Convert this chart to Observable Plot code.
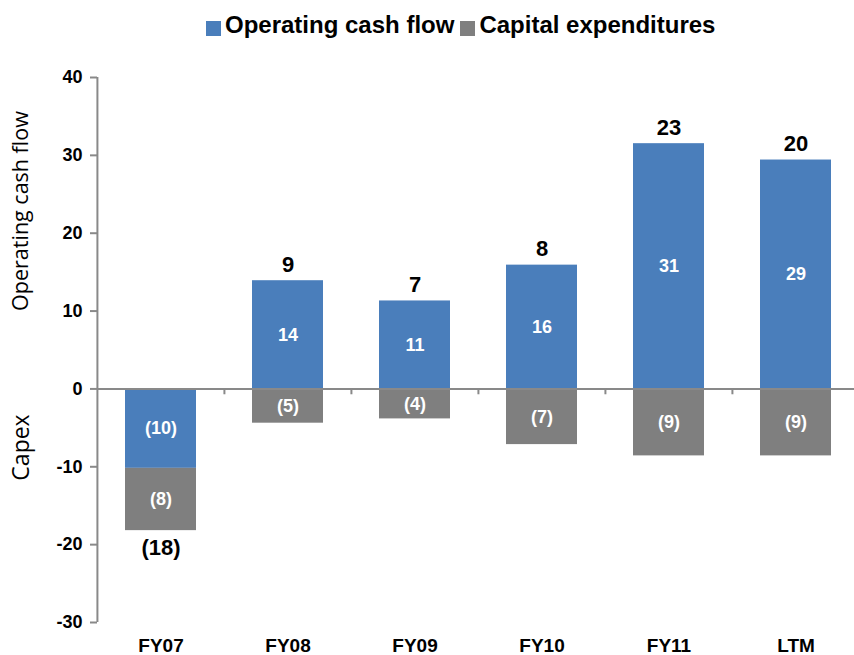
<!DOCTYPE html>
<html>
<head>
<meta charset="utf-8">
<script src="https://cdn.jsdelivr.net/npm/d3@7"></script>
<script src="https://cdn.jsdelivr.net/npm/@observablehq/plot@0.6"></script>
<style>
  html, body { margin: 0; padding: 0; background: #fff; }
  #wrap { width: 854px; height: 655px; position: relative; }
  #legend { height: 50px; display: flex; align-items: center; padding-left: 206px; box-sizing: border-box;
            font-family: "Liberation Sans", Arial, sans-serif; font-weight: bold; font-size: 24px; color: #000; }
  #legend .sw { width: 15px; height: 15px; display: inline-block; margin-right: 4px; position: relative; top: 3px; }
  #legend .item { display: flex; align-items: center; margin-right: 6px; white-space: nowrap; }
  svg { display: block; overflow: visible; }
</style>
</head>
<body>
<div id="wrap">
  <div id="legend"></div>
  <div id="chart"></div>
</div>
<script>
// ---- data ----
const categories = ["FY07", "FY08", "FY09", "FY10", "FY11", "LTM"];
const ocf = [-10.2, 13.9, 11.3, 15.9, 31.5, 29.4];
const capex = [-8.0, -4.4, -3.85, -7.15, -8.6, -8.6];
const ocfLabels = ["(10)", "14", "11", "16", "31", "29"];
const capexLabels = ["(8)", "(5)", "(4)", "(7)", "(9)", "(9)"];
const totalLabels = ["(18)", "9", "7", "8", "23", "20"];
const seriesNames = ["Operating cash flow", "Capital expenditures"];
const seriesColors = ["#4a7ebb", "#7f7f7f"];
const yTicks = [-30, -20, -10, 0, 10, 20, 30, 40];
const yTickLabels = ["-30", "-20", "-10", "0", "10", "20", "30", "40"];
const yTitles = ["Operating cash flow", "Capex"];

// ---- tables ----
const rows = [];
categories.forEach((c, i) => {
  rows.push({cat: c, series: seriesNames[0], value: ocf[i], label: ocfLabels[i]});
  rows.push({cat: c, series: seriesNames[1], value: capex[i], label: capexLabels[i]});
});
const totals = categories.map((c, i) => ({cat: c, label: totalLabels[i], top: ocf[i], end: ocf[i] + capex[i]}));

// ---- legend ----
const legend = document.getElementById("legend");
seriesNames.forEach((s, i) => {
  const it = document.createElement("span");
  it.className = "item";
  const sw = document.createElement("span");
  sw.className = "sw";
  sw.style.background = seriesColors[i];
  it.appendChild(sw);
  it.appendChild(document.createTextNode(s));
  legend.appendChild(it);
});

// ---- chart ----
const font = "'Liberation Sans', Arial, sans-serif";
const axisGray = "#898989";
const xRange = [97, 860];
const step = (xRange[1] - xRange[0]) / categories.length;

const chart = Plot.plot({
  width: 854,
  height: 605,
  marginTop: 27,
  marginBottom: 33,
  marginLeft: 97,
  marginRight: 0,
  style: {fontFamily: font, background: "white", overflow: "visible"},
  x: {domain: categories, range: xRange, paddingInner: 0.44, paddingOuter: 0.22},
  y: {domain: [-30, 40]},
  color: {domain: seriesNames, range: seriesColors},
  marks: [
    Plot.barY(rows, Plot.stackY({x: "cat", y: "value", fill: "series", z: "series", order: null, inset: 0})),
    Plot.ruleY([0], {stroke: axisGray, strokeWidth: 2}),
    Plot.ruleX([categories[0]], {x: d => d, dx: -step / 2, stroke: axisGray, strokeWidth: 2}),
    Plot.ruleX(categories.slice(1), {x: d => d, dx: -step / 2, y1: 0, y2: -0.75, stroke: axisGray, strokeWidth: 2}),
    Plot.text(rows, Plot.stackY({x: "cat", y: "value", z: "series", order: null, text: "label",
      fill: "white", fontSize: 18, fontWeight: "bold"})),
    Plot.text(totals.filter(d => d.top > 0), {x: "cat", y: "top", text: "label", dy: -16,
      fill: "black", fontSize: 22, fontWeight: "bold"}),
    Plot.text(totals.filter(d => d.top <= 0), {x: "cat", y: "end", text: "label", dy: 17,
      fill: "black", fontSize: 22, fontWeight: "bold"}),
    Plot.axisY({ticks: yTicks, tickFormat: d => yTickLabels[yTicks.indexOf(d)], tickSize: 7, tickPadding: 8,
      stroke: axisGray, strokeWidth: 2, fill: "black", fontSize: 18, fontWeight: "bold", label: null}),
    Plot.axisX({tickSize: 0, tickPadding: 16, fill: "black", fontSize: 19, fontWeight: "bold", label: null}),
    Plot.text([yTitles[0]], {frameAnchor: "left", dx: -76, dy: -139, rotate: -90, text: d => d,
      fontFamily: "'Open Sans', sans-serif", fontSize: 21.5, fill: "black", textAnchor: "middle"}),
    Plot.text([yTitles[1]], {frameAnchor: "left", dx: -76, dy: 97.5, rotate: -90, text: d => d,
      fontFamily: "'Open Sans', sans-serif", fontSize: 23, fill: "black", textAnchor: "middle"})
  ]
});
document.getElementById("chart").appendChild(chart);
</script>
</body>
</html>
